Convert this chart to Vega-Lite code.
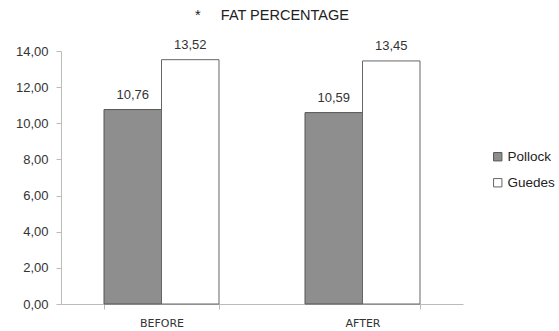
{
  "$schema": "https://vega.github.io/schema/vega-lite/v6.json",
  "autosize": {"type": "none"},
  "padding": {"left": 61, "top": 51, "right": 96, "bottom": 27},
  "width": 402,
  "height": 253,
  "background": "white",
  "config": {
    "locale": {"number": {"decimal": ",", "thousands": ".", "grouping": [3], "currency": ["", ""]}},
    "view": {"stroke": null},
    "font": "Liberation Sans"
  },
  "title": {
    "text": "*\u00a0\u00a0\u00a0\u00a0\u00a0FAT PERCENTAGE",
    "fontSize": 14.5,
    "fontWeight": "normal",
    "color": "#222",
    "anchor": "middle",
    "dx": 10,
    "offset": 15
  },
  "data": {
    "values": [
      {"time": "BEFORE", "method": "Pollock", "order": 1, "value": 10.76},
      {"time": "BEFORE", "method": "Guedes", "order": 2, "value": 13.52},
      {"time": "AFTER", "method": "Pollock", "order": 1, "value": 10.59},
      {"time": "AFTER", "method": "Guedes", "order": 2, "value": 13.45}
    ]
  },
  "encoding": {
    "x": {
      "field": "time",
      "type": "nominal",
      "sort": ["BEFORE", "AFTER"],
      "scale": {"paddingInner": 0.428, "paddingOuter": 0.214},
      "axis": {
        "title": null,
        "labelAngle": 0,
        "labelFont": "DejaVu Sans",
        "labelFontSize": 11,
        "labelColor": "#333",
        "labelPadding": 8,
        "domainColor": "#bbb",
        "tickColor": "#bbb",
        "tickBand": "extent",
        "tickSize": 5
      }
    },
    "xOffset": {"field": "method", "type": "nominal", "sort": ["Pollock", "Guedes"]},
    "y": {
      "field": "value",
      "type": "quantitative",
      "scale": {"domain": [0, 14]},
      "axis": {
        "title": null,
        "values": [0, 2, 4, 6, 8, 10, 12, 14],
        "format": ".2f",
        "grid": false,
        "labelFontSize": 13,
        "labelColor": "#333",
        "labelPadding": 8,
        "domainColor": "#bbb",
        "tickColor": "#bbb",
        "tickSize": 5
      }
    }
  },
  "layer": [
    {
      "mark": {"type": "bar", "strokeWidth": 1},
      "encoding": {
        "color": {
          "field": "method",
          "type": "nominal",
          "sort": ["Pollock", "Guedes"],
          "scale": {"domain": ["Pollock", "Guedes"], "range": ["#8e8e8e", "#ffffff"]},
          "legend": {
            "title": null,
            "orient": "none",
            "legendX": 430,
            "legendY": 99,
            "symbolType": "square",
            "symbolSize": 70,
            "symbolStrokeColor": "#444",
            "symbolStrokeWidth": 1,
            "labelFontSize": 13.5,
            "labelColor": "#222",
            "labelOffset": 3,
            "rowPadding": 11
          }
        },
        "stroke": {
          "field": "method",
          "type": "nominal",
          "scale": {"domain": ["Pollock", "Guedes"], "range": ["#555555", "#666666"]},
          "legend": null
        }
      }
    },
    {
      "mark": {"type": "text", "dy": -15, "fontSize": 13, "color": "#333"},
      "encoding": {
        "text": {"field": "value", "type": "quantitative", "format": ".2f"}
      }
    }
  ]
}
